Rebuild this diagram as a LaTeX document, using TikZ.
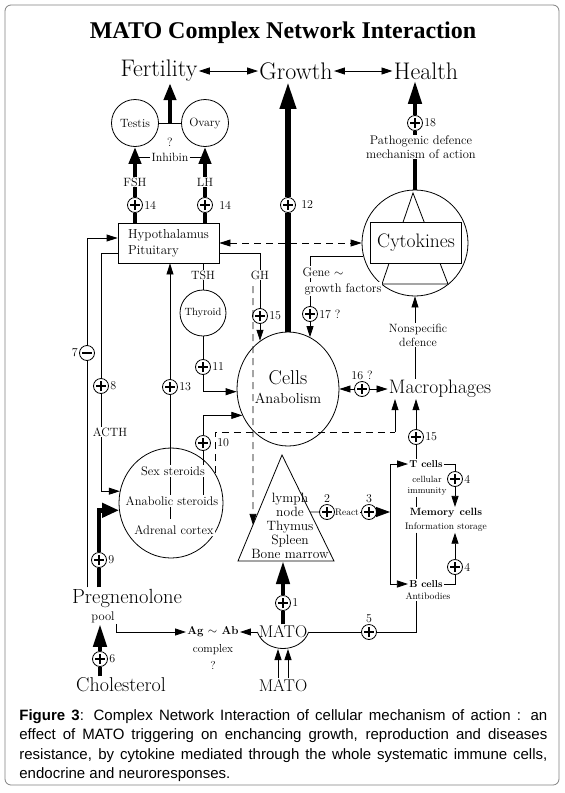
\documentclass[tikz,border=0pt]{standalone}
\usepackage{fontspec}
\usepackage{tikz}
\usetikzlibrary{shapes.geometric, arrows.meta, calc}
\newfontfamily\titlefont{Liberation Serif}
\newfontfamily\capfont{Liberation Sans}

\begin{document}
\begin{tikzpicture}[
    x=1pt, y=-1pt,
    line width=0.8pt,
    txt/.style={inner sep=1pt, align=center},
    onl/.style={txt, fill=white},
    hugetxt/.style={txt, font=\fontsize{24}{26}\selectfont},
    bigtxt/.style={txt, font=\fontsize{19.5}{21}\selectfont},
    midtxt/.style={txt, font=\fontsize{12.5}{14}\selectfont},
    smalltxt/.style={txt, font=\fontsize{9.5}{11}\selectfont},
    organ/.style={circle, draw, inner sep=0pt, font=\fontsize{12}{14}\selectfont},
    oval/.style={ellipse, draw, inner sep=0pt},
    box/.style={rectangle, draw, fill=white, inner sep=2pt},
    num/.style={inner sep=1pt, font=\fontsize{12}{12}\selectfont},
    pluscirc/.style={circle, draw, fill=white, minimum size=15pt, inner sep=0pt,
        path picture={\draw[line width=1.3pt]
            ([xshift=-5pt]path picture bounding box.center) -- ([xshift=5pt]path picture bounding box.center)
            ([yshift=-5pt]path picture bounding box.center) -- ([yshift=5pt]path picture bounding box.center);}},
    minuscirc/.style={circle, draw, fill=white, minimum size=15pt, inner sep=0pt,
        path picture={\draw[line width=1.3pt]
            ([xshift=-5pt]path picture bounding box.center) -- ([xshift=5pt]path picture bounding box.center);}},
    arrow/.style={-{Triangle[length=11pt, width=7pt]}},
    duo/.style={{Triangle[length=11pt, width=7pt]}-{Triangle[length=11pt, width=7pt]}},
    fatarrow/.style={-{Triangle[length=14pt, width=10pt]}},
    medline/.style={line width=4pt},
    medarrow/.style={medline, -{Triangle[length=17pt, width=12pt]}},
    bigline/.style={line width=4.5pt},
    bigarrow/.style={bigline, -{Triangle[length=23pt, width=13pt]}},
    flagarrow/.style={bigline, -{Triangle[length=17pt, width=14pt]}},
    hugeline/.style={line width=6.5pt},
    hugearrow/.style={hugeline, -{Triangle[length=28pt, width=15pt]}},
    dashline/.style={dash pattern=on 7pt off 5pt}
]
\useasboundingbox (0,0) rectangle (565,793);
\draw[gray, rounded corners=6pt] (5,5) rectangle (559,785);

% Title
\node[txt, font=\titlefont\bfseries\fontsize{24}{26}\selectfont] (title) at (283,33) {MATO Complex Network Interaction};

% Top row
\node[hugetxt] (fert) at (159,71) {Fertility};
\node[hugetxt] (growth) at (296,71) {Growth};
\node[hugetxt] (health) at (426,71) {Health};

% Gonads
\node[organ, minimum size=47pt] (testis) at (135,123) {Testis};
\node[organ, minimum size=47pt] (ovary) at (205,123) {Ovary};
\node[txt, font=\fontsize{12}{14}\selectfont] (inhibq) at (170,142) {?};
\node[txt, font=\fontsize{12}{14}\selectfont] (inhibin) at (170,157) {Inhibin};

% Hypothalamus, thyroid, cytokines
\node[box, align=left, minimum width=101pt, minimum height=40pt, font=\fontsize{13}{16}\selectfont] (hyp) at (168.5,243) {Hypothalamus\\Pituitary};
\node[organ, minimum size=46pt, font=\fontsize{10.5}{12}\selectfont] (thy) at (203,313) {Thyroid};
\node[organ, minimum size=106pt] (cyto) at (415,243) {};
\draw ([shift={(-2,-50)}]cyto.center) -- ([shift={(-33,41)}]cyto.center) -- ([shift={(33,41)}]cyto.center) -- cycle;
\node[box, minimum width=91pt, minimum height=41pt, font=\fontsize{19.5}{21}\selectfont] (cytobox) at (416,243) {Cytokines};

% Cells, macrophages, steroids
\node[oval, minimum width=102pt, minimum height=114pt] (cells) at (288,389) {};
\node[txt, font=\fontsize{20}{22}\selectfont] (cellst) at (288,378) {Cells};
\node[txt, font=\fontsize{14.5}{16}\selectfont] (anabol) at (288,398) {Anabolism};
\node[bigtxt] (macro) at (440,389) {Macrophages};
\node[oval, minimum width=104pt, minimum height=110pt] (sex) at (171,503) {};

% Lymph organs
\coordinate (lapex) at (282,455);
\coordinate (lbl) at (238,561);
\coordinate (lbr) at (334,561);
\draw (lapex) -- (lbl) -- (lbr) -- cycle;
\node[txt, font=\fontsize{13.5}{14}\selectfont] (lymph) at (290,526) {lymph\\node\\Thymus\\Spleen\\Bone marrow};

% Immune cells
\node[smalltxt] (react) at (347,512) {React};
\coordinate (brk) at (390,512);
\node[txt, font=\bfseries\fontsize{10}{11}\selectfont] (tcell) at (426,464) {T cells};
\node[txt, font=\fontsize{9}{11}\selectfont] (tinfo) at (427,486) {cellular\\immunity};
\node[txt, font=\bfseries\fontsize{10.5}{12}\selectfont] (mem) at (446,513) {Memory\enspace cells};
\node[smalltxt] (meminfo) at (446,527) {Information storage};
\node[txt, font=\bfseries\fontsize{10}{11}\selectfont] (bcell) at (426,584) {B cells};
\node[smalltxt] (antib) at (428,596) {Antibodies};

% Bottom
\node[txt, font=\fontsize{20.5}{22}\selectfont] (preg) at (127,598) {Pregnenolone};
\node[midtxt] (pool) at (103,617) {pool};
\node[txt, font=\fontsize{20}{22}\selectfont] (chol) at (121,685) {Cholesterol};
\node[txt, font=\bfseries\fontsize{11.5}{13}\selectfont] (agab) at (213,632) {Ag $\sim$ Ab};
\node[txt, font=\fontsize{11.5}{17}\selectfont] (agabq) at (213,657) {complex\\?};
\node[txt, font=\fontsize{17}{19}\selectfont] (mato) at (283,632) {MATO};
\node[txt, font=\fontsize{17}{19}\selectfont] (mato2) at (283,686) {MATO};
\coordinate (arcl) at (278,649);
\coordinate (arcr) at (288,649);

% Plus / minus signs
\node[pluscirc, label={[num]right:14}] (p14a) at (135,205) {};
\node[pluscirc, label={[num, xshift=5pt]right:14}] (p14b) at (205,205) {};
\node[pluscirc, label={[num, xshift=4pt]right:12}] (p12) at (288,205) {};
\node[pluscirc, label={[num]right:18}] (p18) at (415,123) {};
\node[pluscirc, label={[num]right:15}] (p15a) at (260,316) {};
\node[pluscirc, label={[num]right:{17 ?}}] (p17) at (310,314) {};
\node[pluscirc, label={[num]right:11}] (p11) at (203,367) {};
\node[pluscirc, label={[num]right:13}] (p13) at (170,387) {};
\node[pluscirc, label={[num]right:8}] (p8) at (101,386) {};
\node[minuscirc, label={[num]left:7}] (m7) at (87,353) {};
\node[pluscirc, label={[num, xshift=5pt]right:10}] (p10) at (203,443) {};
\node[pluscirc, label={[num]above:{16 ?}}] (p16) at (362,389) {};
\node[pluscirc, label={[num]right:15}] (p15b) at (416,437) {};
\node[pluscirc, label={[num]right:4}] (p4a) at (455,479) {};
\node[pluscirc, label={[num]right:4}] (p4b) at (455,567) {};
\node[pluscirc, label={[num]above:2}] (p2) at (327,512) {};
\node[pluscirc, label={[num]above:3}] (p3) at (369,512) {};
\node[pluscirc, label={[num]right:1}] (p1) at (283,603) {};
\node[pluscirc, label={[num]above:5}] (p5) at (369,632) {};
\node[pluscirc, label={[num]right:9}] (p9) at (99,560) {};
\node[pluscirc, label={[num]right:6}] (p6) at (100,659) {};

\coordinate (dtop) at (253,286);
\coordinate (dsplit) at (395,432);
\coordinate (c13) at (170,519);
\coordinate (c10) at (203,495);

% Arrows: top row
\draw[duo] (fert) -- (growth);
\draw[duo] (growth) -- (health);
\draw (testis) -- (ovary) coordinate[midway] (gonad);
\draw[medarrow] (gonad) -- (gonad |- fert.south);
\draw[medline] (testis.south |- hyp.north) -- (p14a);
\draw[medarrow] (p14a) -- (testis.south);
\draw[medline] (ovary.south |- hyp.north) -- (p14b);
\draw[medarrow] (p14b) -- (ovary.south);
\draw (inhibin) -- (inhibin -| testis.south);
\draw (inhibin) -- (inhibin -| ovary.south);
\draw[hugeline] (cells.north) -- (p12);
\draw[hugearrow] (p12) -- (p12 |- growth.south);
\draw[bigline] (cyto.north) -- (p18);
\draw[bigarrow] (p18) -- (p18 |- health.south);

% Arrows: endocrine
\draw[dashline, duo] (hyp) -- (cyto);
\draw ([yshift=-10pt]hyp.east) -| (p15a);
\draw[arrow] (p15a) -- (p15a |- cells.120);
\draw (cyto.194) -| (p17);
\draw[arrow] (p17) -- (p17 |- cells.67);
\draw (hyp.south -| thy) -- (thy);
\draw (thy) -- (p11);
\draw[arrow] (p11) |- (cells.183);
\draw (c13) -- (p13);
\draw[arrow] (p13) -- (p13 |- hyp.south);
\draw (c10) -- (p10);
\draw[arrow] (p10) |- (cells.210);
\draw ([yshift=-10pt]hyp.west) -| (p8);
\draw[arrow] (p8) |- (sex.167);
\draw (preg.north -| m7) -- (m7);
\draw[arrow] (m7) |- ([yshift=5pt]hyp.west);
\draw[bigline] (preg.north -| p9) -- (p9);
\draw[flagarrow] (p9) |- (sex.188);
\draw[bigline] (chol.north -| p6) -- (p6);
\draw[bigarrow] (p6) -- (p6 |- pool.south);
\draw[arrow] (pool.south east) |- (agab);

% Arrows: immune
\draw[arrow] (p16) -- (cells);
\draw[arrow] (p16) -- (macro);
\draw[arrow] (macro.north -| cyto.south) -- (cyto.south);
\draw[dashline] (sex.34) |- (dsplit);
\draw[arrow] (dsplit) -- (dsplit |- macro.south);
\draw[dashline, arrow] (dtop) -- ($(lapex)!0.659!(lbl)$);
\draw[bigline] (mato) -- (p1);
\draw[bigarrow] (p1) -- (p1 |- lbl);
\draw ($(lapex)!0.538!(lbr)$) -- (p2);
\draw (p2) -- (react);
\draw (react) -- (p3);
\draw[fatarrow] (p3) -- (brk);
\draw[arrow] (brk) |- (tcell);
\draw[arrow] (brk) |- (bcell);
\draw (tcell) -| (p4a);
\draw[arrow] (p4a) -- (p4a |- mem.north);
\draw (bcell) -| (p4b);
\draw[arrow] (p4b) -- (p4b |- meminfo.south);
\draw[arrow] (p15b) -- (p15b |- macro.south);
\draw (tcell.north -| p15b) -- (p15b);
\draw (tinfo.south -| p15b) -- (mem.north -| p15b);
\draw (meminfo.south -| p15b) -- (bcell.north -| p15b);
\draw (antib.south -| p15b) |- (p5);
\draw (p5) -- (mato);
\draw[arrow] (mato) -- (agab);
\draw (mato.west) .. controls +(8,22) and +(-8,22) .. (mato.east);
\draw[arrow] ([xshift=-5pt]mato2.north) -- (arcl);
\draw[arrow] ([xshift=5pt]mato2.north) -- (arcr);

% Labels on lines
\node[onl, font=\fontsize{12}{14}\selectfont] (fsh) at (135,182) {FSH};
\node[onl, font=\fontsize{12}{14}\selectfont] (lh) at (205,182) {LH};
\node[onl, font=\fontsize{12}{14}\selectfont] (tsh) at (203,275) {TSH};
\node[onl, font=\fontsize{12}{14}\selectfont] (gh) at (260,275) {GH};
\node[onl, font=\fontsize{12}{14}\selectfont] (acth) at (110,432) {ACTH};
\node[onl, font=\fontsize{12.5}{14}\selectfont] (gene) at (323,272) {Gene $\sim$};
\node[onl, font=\fontsize{12.5}{14}\selectfont] (growthf) at (343,289) {growth factors};
\node[onl, font=\fontsize{12.5}{14}\selectfont] (patho) at (421,147) {Pathogenic defence\\mechanism of action};
\node[onl, font=\fontsize{12}{14}\selectfont] (nonspec) at (418,335) {Nonspecific\\defence};
\node[onl, font=\fontsize{12.5}{14}\selectfont] (sexst) at (173,471) {Sex steroids};
\node[onl, font=\fontsize{12.5}{14}\selectfont] (anab) at (172,501) {Anabolic steroids};
\node[onl, font=\fontsize{12.5}{14}\selectfont] (adren) at (174,530) {Adrenal cortex};

% Caption
\node[anchor=north west, inner sep=0pt, text width=528pt, align=justify, font=\capfont\fontsize{15}{19.5}\selectfont] (caption) at (19,709) {\textbf{Figure 3}: Complex Network Interaction of cellular mechanism of action : an\linebreak effect of MATO triggering on enchancing growth, reproduction and diseases\linebreak resistance, by cytokine mediated through the whole systematic immune cells,\linebreak endocrine and neuroresponses.};
\end{tikzpicture}
\end{document}
